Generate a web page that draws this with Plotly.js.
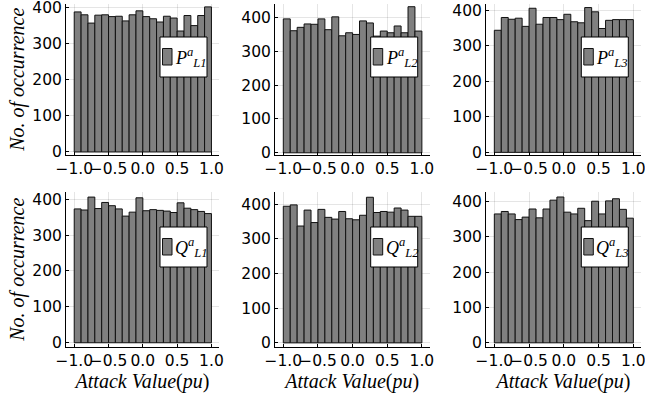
<!DOCTYPE html>
<html><head><meta charset="utf-8">
<script src="https://cdn.plot.ly/plotly-3.0.1.min.js"></script>
<style>html,body{margin:0;padding:0;background:#fff}</style>
</head><body><div id="chart" style="width:645px;height:397px"></div>
<script>
const binCenters = [-0.95,-0.85,-0.75,-0.65,-0.55,-0.45,-0.35,-0.25,-0.15,-0.05,0.05,0.15,0.25,0.35,0.45,0.55,0.65,0.75,0.85,0.95];
const pL1 = [389,381,358,380,381,376,377,364,381,392,376,370,361,377,372,336,379,351,379,403];
const pL2 = [396,361,371,381,380,396,364,402,346,355,350,390,384,345,360,355,375,355,432,360];
const pL3 = [344,380,375,378,355,406,361,380,380,374,389,368,365,408,396,349,372,374,374,374];
const qL1 = [373,370,406,374,391,382,373,353,364,404,368,371,369,367,363,390,375,371,366,360];
const qL2 = [394,398,337,383,347,385,362,357,379,358,355,368,420,376,379,377,389,383,365,365];
const qL3 = [365,372,365,349,356,379,354,379,404,413,370,365,381,346,401,365,402,408,378,353];
const seriesNames = ['<i>P</i><sup><i>a</i></sup><sub><i>L1</i></sub>','<i>P</i><sup><i>a</i></sup><sub><i>L2</i></sub>','<i>P</i><sup><i>a</i></sup><sub><i>L3</i></sub>',
  '<i>Q</i><sup><i>a</i></sup><sub><i>L1</i></sub>','<i>Q</i><sup><i>a</i></sup><sub><i>L2</i></sub>','<i>Q</i><sup><i>a</i></sup><sub><i>L3</i></sub>'];
const tickVals = [-1.0,-0.5,0.0,0.5,1.0];
const yTickVals = [0,100,200,300,400];
const xTitle = '<i>Attack Value</i>(<i>pu</i>)';
const yTitle = '<i>No. of occurrence</i>';

const allSeries = [pL1,pL2,pL3,qL1,qL2,qL3];
const W = 645, H = 397;
const xDom = [[66,219],[275,429.5],[486,641]];
const yDom = [[4,154.5],[191.7,346.7]];
const yRanges = [[-7,411],[-5,440],[-6,418],[-11,421],[-11,436],[-11,428]];
// legend box: left, top (px)
const legBox = [[160,37],[370.7,37],[581.3,37],[160,227],[370.7,227],[581.3,227]];
const legW = 47, legH = 40;

const traces = [];
const shapes = [];
const annotations = [];
const layout = {
  width: W, height: H, margin:{l:0,r:0,t:0,b:0},
  paper_bgcolor:'#fff', plot_bgcolor:'#fff', bargap:0, showlegend:false,
  shapes, annotations
};
const tickFont = {family:'DejaVu Sans', size:15.5, color:'#000'};
const titleFont = {family:'Liberation Serif', size:20, color:'#000'};
allSeries.forEach((vals,i)=>{
  const n = i+1;
  const sfx = n===1 ? '' : String(n);
  traces.push({
    type:'bar', x:binCenters, y:vals, width:0.1,
    xaxis:'x'+sfx, yaxis:'y'+sfx, name:seriesNames[i],
    marker:{color:'#808080', line:{color:'#111', width:1}}
  });
  const col = i%3, row = Math.floor(i/3);
  layout['xaxis'+sfx] = {
    domain:[xDom[col][0]/W, xDom[col][1]/W], anchor:'y'+sfx, range:[-1.12,1.11],
    tickvals:tickVals, tickformat:'.1f', tickangle:0, ticks:'inside', ticklen:3, tickcolor:'#000',
    showline:true, linecolor:'#000', linewidth:1, showgrid:true, gridcolor:'rgba(0,0,0,0.1)',
    zeroline:false, tickfont:tickFont, ticklabeloverflow:'allow',
    title: row===1 ? {text:xTitle, font:titleFont, standoff:0} : undefined
  };
  layout['yaxis'+sfx] = {
    domain:[1-yDom[row][1]/H, 1-yDom[row][0]/H], anchor:'x'+sfx, range:yRanges[i],
    tickvals:yTickVals, ticks:'inside', ticklen:3, tickcolor:'#000', tickangle:0,
    showline:true, linecolor:'#000', linewidth:1, showgrid:true, gridcolor:'rgba(0,0,0,0.1)',
    zeroline:false, tickfont:tickFont, ticklabeloverflow:'allow',
    title: col===0 ? {text:yTitle, font:titleFont, standoff:2} : undefined
  };
  // legend box drawn as shapes + text
  const [lx, ly] = legBox[i];
  shapes.push({type:'rect', xref:'paper', yref:'paper', x0:lx/W, x1:(lx+legW)/W, y0:1-(ly+legH)/H, y1:1-ly/H,
    fillcolor:'#fff', line:{color:'#000', width:1}, layer:'above'});
  shapes.push({type:'rect', xref:'paper', yref:'paper', x0:(lx+2.5)/W, x1:(lx+12)/W, y0:1-(ly+28)/H, y1:1-(ly+11.5)/H,
    fillcolor:'#808080', line:{color:'#111', width:1}, layer:'above'});
  annotations.push({xref:'paper', yref:'paper', x:(lx+13)/W, y:1-(ly+legH/2)/H, xanchor:'left', yanchor:'middle',
    text:seriesNames[i], showarrow:false, font:{family:'Liberation Serif', size:18, color:'#000'}});
});
Plotly.newPlot('chart', traces, layout, {staticPlot:true});
</script></body></html>
